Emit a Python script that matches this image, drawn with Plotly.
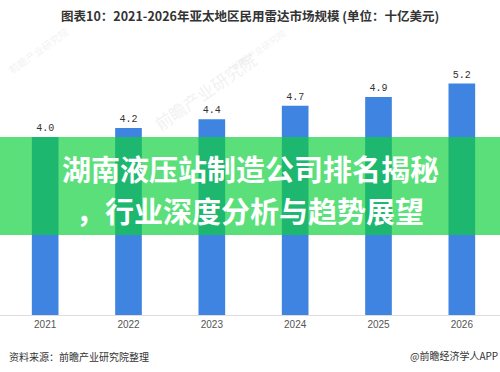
import plotly.graph_objects as go

years = ["2021", "2022", "2023", "2024", "2025", "2026"]
values = [4.0, 4.2, 4.4, 4.7, 4.9, 5.2]
value_labels = ["4.0", "4.2", "4.4", "4.7", "4.9", "5.2"]

title_text = "图表10：2021-2026年亚太地区民用雷达市场规模 (单位：十亿美元)"
banner_line1 = "湖南液压站制造公司排名揭秘"
banner_line2 = "，行业深度分析与趋势展望"
source_text = "资料来源：前瞻产业研究院整理"
brand_text = "@前瞻经济学人APP"
watermark = "前瞻产业研究院"

W, H = 500, 372
top, bottom = 48, 57
plot_h = H - top - bottom


def py(ypx):
    return (H - bottom - ypx) / plot_h


fig = go.Figure()
fig.add_trace(go.Bar(
    x=years, y=values,
    marker=dict(color="#3f84e0", line=dict(width=0)),
    width=0.32,
    text=value_labels, textposition="outside",
    textfont=dict(family="Liberation Mono, DejaVu Sans Mono, monospace", size=10, color="#333333"),
    cliponaxis=False,
))

annotations = []
# faint watermarks (drawn first, beneath other text)
for (wx, wy, sz) in [(205, 92, 17), (38, 50, 10), (258, 50, 9)]:
    annotations.append(dict(text=watermark, x=wx / W, y=py(wy), xref="paper", yref="paper",
                            xanchor="center", yanchor="middle",
                            showarrow=False, textangle=-35,
                            font=dict(family="Noto Sans CJK SC", size=sz, color="rgba(200,200,200,0.25)")))
annotations += [
    dict(text="<b>" + title_text + "</b>", x=0.5, y=py(16), xref="paper", yref="paper",
         xanchor="center", yanchor="middle",
         showarrow=False, font=dict(family="Noto Sans CJK SC", size=12.5, color="#333333")),
    dict(text="<b>" + banner_line1 + "</b>", x=0.5, y=py(168), xref="paper", yref="paper",
         xanchor="center", yanchor="middle",
         showarrow=False, font=dict(family="Noto Sans CJK SC", size=29, color="#ffffff")),
    dict(text="<b>" + banner_line2 + "</b>", x=0.5, y=py(210), xref="paper", yref="paper",
         xanchor="center", yanchor="middle",
         showarrow=False, font=dict(family="Noto Sans CJK SC", size=29, color="#ffffff")),
    dict(text=source_text, x=7 / W, y=py(356), xref="paper", yref="paper",
         xanchor="left", yanchor="middle",
         showarrow=False, font=dict(family="Noto Sans CJK SC", size=10, color="#333333")),
    dict(text=brand_text, x=1.0, y=py(355), xref="paper", yref="paper",
         xanchor="right", yanchor="middle",
         showarrow=False, font=dict(family="Noto Sans CJK SC", size=10, color="#333333")),
]

fig.update_layout(
    width=W, height=H,
    margin=dict(l=0, r=0, t=top, b=bottom),
    paper_bgcolor="white", plot_bgcolor="white",
    showlegend=False,
    xaxis=dict(range=[-0.542, 5.458], showline=True, linecolor="#dddddd", linewidth=1,
               ticks="", showgrid=False, zeroline=False,
               tickfont=dict(family="Liberation Sans, Arial, sans-serif", size=10, color="#555555")),
    yaxis=dict(range=[0, 6], visible=False, showgrid=False, zeroline=False),
    annotations=annotations,
    shapes=[dict(type="rect", xref="paper", yref="paper", x0=-0.01, x1=1.01,
                 y0=py(235), y1=py(137), fillcolor="rgba(13,208,59,0.68)",
                 line=dict(width=0), layer="above")],
)

fig.write_html("out.html", config={"displayModeBar": False},
               post_script="document.body.style.margin='0';document.body.style.overflow='hidden';")
